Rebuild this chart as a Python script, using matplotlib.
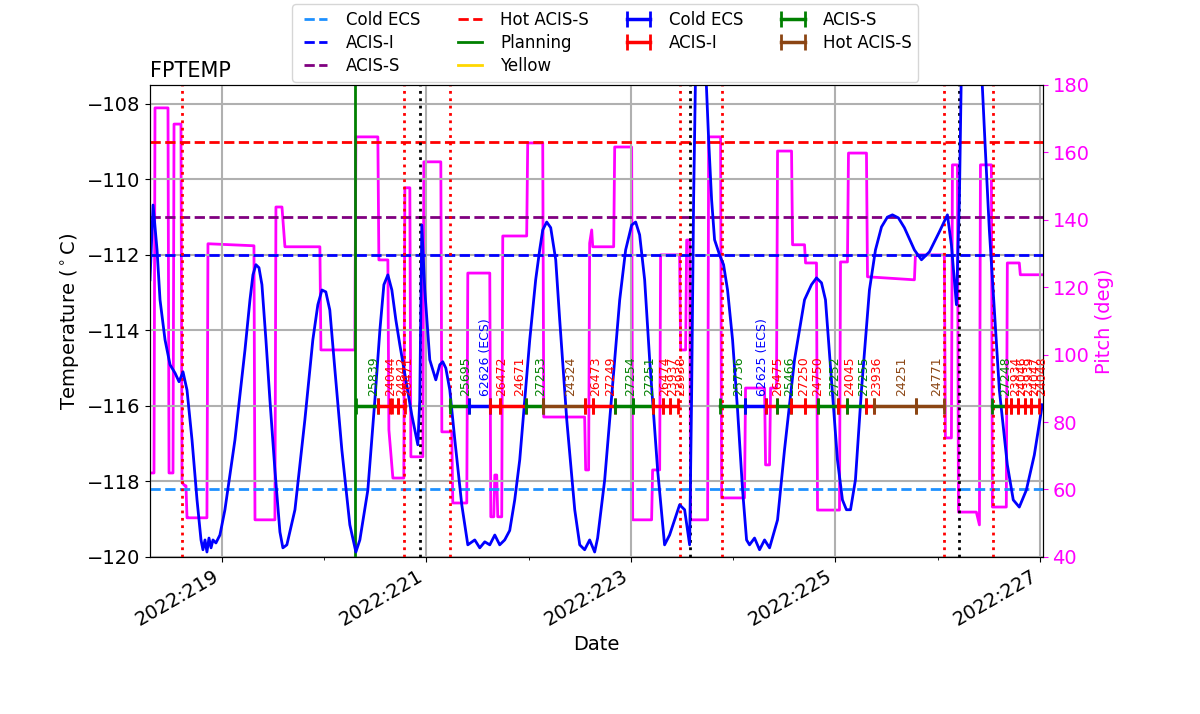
import matplotlib
matplotlib.use("Agg")
import matplotlib.pyplot as plt
import numpy as np

# model FPTEMP (day of year 2022, deg C)
fp_day = [218.296, 218.326, 218.365, 218.394, 218.443, 218.492, 218.541, 218.580, 218.619, 218.658,
          218.707, 218.756, 218.795, 218.814, 218.834, 218.853, 218.873, 218.893, 218.912, 218.941,
          218.980, 219.029, 219.127, 219.225, 219.274, 219.303, 219.332, 219.362, 219.391, 219.430,
          219.469, 219.518, 219.567, 219.596, 219.635, 219.714, 219.811, 219.889, 219.938, 219.978,
          220.016, 220.055, 220.105, 220.173, 220.251, 220.310, 220.349, 220.427, 220.496, 220.545,
          220.584, 220.623, 220.662, 220.701, 220.740, 220.799, 220.857, 220.916, 220.935, 220.955,
          220.984, 221.033, 221.092, 221.131, 221.160, 221.190, 221.229, 221.278, 221.346, 221.405,
          221.473, 221.522, 221.571, 221.620, 221.669, 221.717, 221.766, 221.815, 221.864, 221.913,
          222.011, 222.069, 222.108, 222.138, 222.177, 222.216, 222.265, 222.304, 222.373, 222.451,
          222.500, 222.548, 222.597, 222.646, 222.675, 222.744, 222.793, 222.891, 222.949, 223.008,
          223.047, 223.086, 223.135, 223.184, 223.262, 223.330, 223.379, 223.428, 223.477, 223.526,
          223.575, 223.594, 223.614, 223.634, 223.731, 223.761, 223.790, 223.819, 223.868, 223.907,
          223.946, 223.995, 224.044, 224.093, 224.132, 224.161, 224.210, 224.259, 224.308, 224.357,
          224.435, 224.503, 224.601, 224.699, 224.767, 224.816, 224.865, 224.904, 224.963, 225.021,
          225.070, 225.109, 225.149, 225.197, 225.256, 225.334, 225.393, 225.452, 225.510, 225.559,
          225.617, 225.676, 225.774, 225.843, 225.921, 226.018, 226.097, 226.136, 226.185, 226.214,
          226.234, 226.429, 226.468, 226.507, 226.556, 226.605, 226.683, 226.741, 226.800, 226.869,
          226.947, 227.025]
fp_temp = [-112.66, -110.68, -111.87, -113.19, -114.25, -114.91, -115.13, -115.36, -115.10, -115.58,
           -116.90, -118.49, -119.55, -119.81, -119.55, -119.87, -119.50, -119.76, -119.55, -119.63,
           -119.42, -118.75, -116.90, -114.52, -113.19, -112.53, -112.26, -112.34, -112.79, -114.25,
           -115.84, -117.70, -119.34, -119.76, -119.68, -118.75, -116.37, -114.25, -113.32, -112.93,
           -112.98, -113.46, -115.05, -117.17, -119.15, -119.87, -119.55, -118.23, -115.84, -113.99,
           -112.79, -112.53, -112.93, -113.72, -114.38, -115.31, -116.24, -117.03, -115.84, -111.21,
           -112.93, -114.78, -115.31, -114.91, -114.83, -115.00, -115.58, -116.90, -118.62, -119.68,
           -119.55, -119.76, -119.60, -119.68, -119.42, -119.68, -119.55, -119.30, -118.49, -117.43,
           -114.25, -112.66, -111.87, -111.34, -111.13, -111.28, -112.13, -113.72, -116.37, -118.75,
           -119.68, -119.81, -119.55, -119.87, -119.50, -117.96, -116.37, -113.19, -111.87, -111.21,
           -111.13, -111.47, -112.66, -114.78, -117.70, -119.68, -119.42, -119.02, -118.62, -118.75,
           -119.68, -115.84, -110.54, -107.00, -107.00, -108.95, -110.54, -111.60, -112.00, -112.26,
           -112.93, -114.25, -116.11, -118.23, -119.55, -119.68, -119.50, -119.81, -119.55, -119.76,
           -119.02, -117.17, -114.78, -113.19, -112.79, -112.61, -112.74, -113.19, -115.31, -117.43,
           -118.49, -118.75, -118.75, -117.96, -115.58, -112.93, -111.87, -111.26, -111.00, -110.94,
           -111.02, -111.28, -111.87, -112.13, -111.92, -111.39, -110.94, -111.74, -113.32, -110.54,
           -107.00, -107.00, -109.22, -111.34, -113.46, -115.58, -117.56, -118.49, -118.68, -118.23,
           -117.30, -115.97]

# pitch (deg)
pitch_day = [218.296, 218.335, 218.345, 218.472, 218.482, 218.521, 218.531, 218.599, 218.609, 218.638,
             218.648, 218.658, 218.668, 218.853, 218.863, 219.313, 219.323, 219.518, 219.528, 219.587,
             219.616, 219.958, 219.968, 220.300, 220.310, 220.525, 220.535, 220.623, 220.633, 220.672,
             220.682, 220.779, 220.789, 220.838, 220.848, 220.965, 220.975, 221.141,
             221.151, 221.248, 221.258, 221.395, 221.405, 221.620, 221.630, 221.659, 221.669, 221.688,
             221.698, 221.737, 221.747, 221.981, 221.991, 222.138, 222.148, 222.548, 222.558, 222.587,
             222.597, 222.617, 222.627, 222.832, 222.842, 223.008, 223.018, 223.203, 223.213, 223.282,
             223.291, 223.477, 223.487, 223.536, 223.546, 223.575, 223.585, 223.653, 223.751, 223.761,
             223.878, 223.888, 224.112, 224.122, 224.308, 224.318, 224.357, 224.367, 224.425, 224.435,
             224.572, 224.582, 224.699, 224.709, 224.816, 224.826, 225.041, 225.051, 225.119, 225.129,
             225.305, 225.315, 225.774, 225.784, 226.067, 226.077, 226.136, 226.146, 226.195, 226.205,
             226.380, 226.410, 226.420, 226.527, 226.537, 226.673, 226.683, 226.800, 226.810, 227.025]
pitch_val = [64.9, 64.9, 173.2, 173.2, 64.9, 64.9, 168.4, 168.4, 62.0, 61.1,
             61.1, 51.6, 51.6, 51.6, 132.9, 132.3, 51.0, 51.0, 143.8, 143.8,
             132.0, 132.0, 101.4, 101.4, 164.6, 164.6, 128.1, 128.1, 77.7, 63.4,
             63.4, 63.4, 149.5, 149.5, 69.7, 69.7, 157.2, 157.2,
             77.1, 77.1, 56.0, 56.0, 124.2, 124.2, 51.9, 51.9, 64.3, 64.3,
             51.9, 51.9, 135.2, 135.2, 162.8, 162.8, 81.5, 81.5, 65.8, 65.8,
             133.1, 137.0, 132.0, 132.0, 161.6, 161.6, 51.0, 51.0, 65.8, 65.8,
             129.6, 129.6, 101.4, 101.4, 134.0, 134.0, 51.0, 51.0, 51.0, 164.6,
             164.6, 57.5, 57.5, 90.1, 90.1, 67.3, 67.3, 90.1, 90.1, 160.4,
             160.4, 132.6, 132.6, 127.2, 127.2, 53.9, 53.9, 127.5, 127.5, 159.8,
             159.8, 123.1, 122.2, 129.6, 129.6, 75.3, 75.3, 156.3, 156.3, 53.3,
             53.3, 49.5, 156.3, 156.3, 54.8, 54.8, 127.2, 127.2, 123.7, 123.7]

# limits
lim_names = ["Cold ECS", "ACIS-I", "ACIS-S", "Hot ACIS-S"]
lim_values = [-118.2, -112.0, -111.0, -109.0]
lim_colors = ["dodgerblue", "blue", "purple", "red"]
plan_day = [218.0, 220.30, 220.30, 228.0]
plan_val = [-130.0, -130.0, -84.0, -84.0]
yellow_limit = -84.0

# radzone / comm markers
red_lines = [218.609, 220.779, 221.229, 223.477, 223.888, 226.068, 226.547]
black_lines = [220.935, 223.575, 226.214]

# obsids
obs_id = ["25839", "24044", "24842", "26471", "25695", "62626 (ECS)", "26472", "24671", "27253", "24324",
          "26473", "27249", "27254", "27251", "26474", "23937", "23938", "25736", "62625 (ECS)", "26475",
          "25466", "27250", "24750", "27252", "24045", "27255", "23936", "24251", "24771", "27248",
          "23934", "24046", "23939", "24047", "24048"]
obs_type = ["ACIS-S", "ACIS-I", "ACIS-I", "ACIS-I", "ACIS-S", "Cold ECS", "ACIS-I", "ACIS-I", "ACIS-S", "Hot ACIS-S",
            "ACIS-I", "ACIS-I", "ACIS-S", "ACIS-S", "ACIS-I", "ACIS-I", "ACIS-I", "ACIS-S", "Cold ECS", "ACIS-I",
            "ACIS-S", "ACIS-I", "ACIS-I", "ACIS-S", "ACIS-I", "ACIS-S", "ACIS-I", "Hot ACIS-S", "Hot ACIS-S", "ACIS-S",
            "ACIS-I", "ACIS-I", "ACIS-I", "ACIS-I", "ACIS-I"]
obs_start = [220.307, 220.525, 220.662, 220.720, 221.229, 221.414, 221.620, 221.717, 221.972, 222.138,
             222.548, 222.627, 222.842, 223.018, 223.213, 223.311, 223.379, 223.868, 224.112, 224.327,
             224.425, 224.562, 224.699, 224.826, 225.031, 225.119, 225.305, 225.383, 225.794, 226.537,
             226.673, 226.722, 226.791, 226.859, 226.918]
obs_stop = [220.525, 220.642, 220.720, 220.789, 221.414, 221.620, 221.717, 221.972, 222.138, 222.548,
            222.627, 222.842, 223.018, 223.213, 223.311, 223.379, 223.458, 224.112, 224.327, 224.425,
            224.562, 224.699, 224.826, 225.031, 225.119, 225.305, 225.383, 225.794, 226.067, 226.673,
            226.722, 226.791, 226.859, 226.918, 226.996]
obs_level = -116.0
obs_colors = {"Cold ECS": "blue", "ACIS-I": "red", "ACIS-S": "green", "Hot ACIS-S": "saddlebrown"}

fig = plt.figure(figsize=(12, 7.14), dpi=100)
ax = fig.add_axes([0.125, 0.22, 0.744, 0.661])
ax2 = ax.twinx()

ax2.plot(pitch_day, pitch_val, color="magenta", lw=2)
ax2.set_ylim(40, 180)
ax2.set_ylabel("Pitch (deg)", color="magenta", fontsize=14)
ax2.tick_params(axis="y", colors="magenta", labelsize=14)

ax.set_zorder(ax2.get_zorder() + 1)
ax.patch.set_visible(False)

handles = []
for name, val, c in zip(lim_names, lim_values, lim_colors):
    handles.append(ax.axhline(val, color=c, ls="--", lw=2, label=name))
handles.append(ax.plot(plan_day, plan_val, color="green", lw=2, label="Planning")[0])
handles.append(ax.axhline(yellow_limit, color="gold", lw=2, label="Yellow"))

for t in red_lines:
    ax.axvline(t, color="red", ls=":", lw=2)
for t in black_lines:
    ax.axvline(t, color="black", ls=":", lw=2)

ax.plot(fp_day, fp_temp, color="blue", lw=2)

for oid, typ, t0, t1 in zip(obs_id, obs_type, obs_start, obs_stop):
    c = obs_colors[typ]
    ax.plot([t0, t1], [obs_level, obs_level], color=c, lw=2.5, marker="|", ms=12, mew=2)
    ax.text(0.5 * (t0 + t1), obs_level + 0.27, oid, color=c, rotation=90,
            ha="left", va="bottom", fontsize=9)

for typ in ["Cold ECS", "ACIS-I", "ACIS-S", "Hot ACIS-S"]:
    handles.append(ax.plot([], [], color=obs_colors[typ], lw=2.5, marker="|", ms=12, mew=2, label=typ)[0])

ax.set_xlim(218.296, 227.03)
ax.set_ylim(-120, -107.5)
ax.set_yticks(np.arange(-120, -107, 2))
ax.set_xticks([219, 221, 223, 225, 227])
ax.set_xticklabels(["2022:%03d" % d for d in [219, 221, 223, 225, 227]], rotation=30, ha="right")
ax.set_xticks([220, 222, 224, 226], minor=True)
ax.tick_params(labelsize=14)
ax.grid(True, color="#b0b0b0", lw=1.5)
ax.set_xlabel("Date", fontsize=14)
ax.set_ylabel(r"Temperature ($^\circ$C)", fontsize=14)
ax.set_title("FPTEMP", loc="left", fontsize=15)

ax.legend(handles=handles, ncol=4, loc="lower center", bbox_to_anchor=(0.51, 0.989),
          fontsize=12, numpoints=2, labelspacing=0.3)

fig.savefig("out.png")
